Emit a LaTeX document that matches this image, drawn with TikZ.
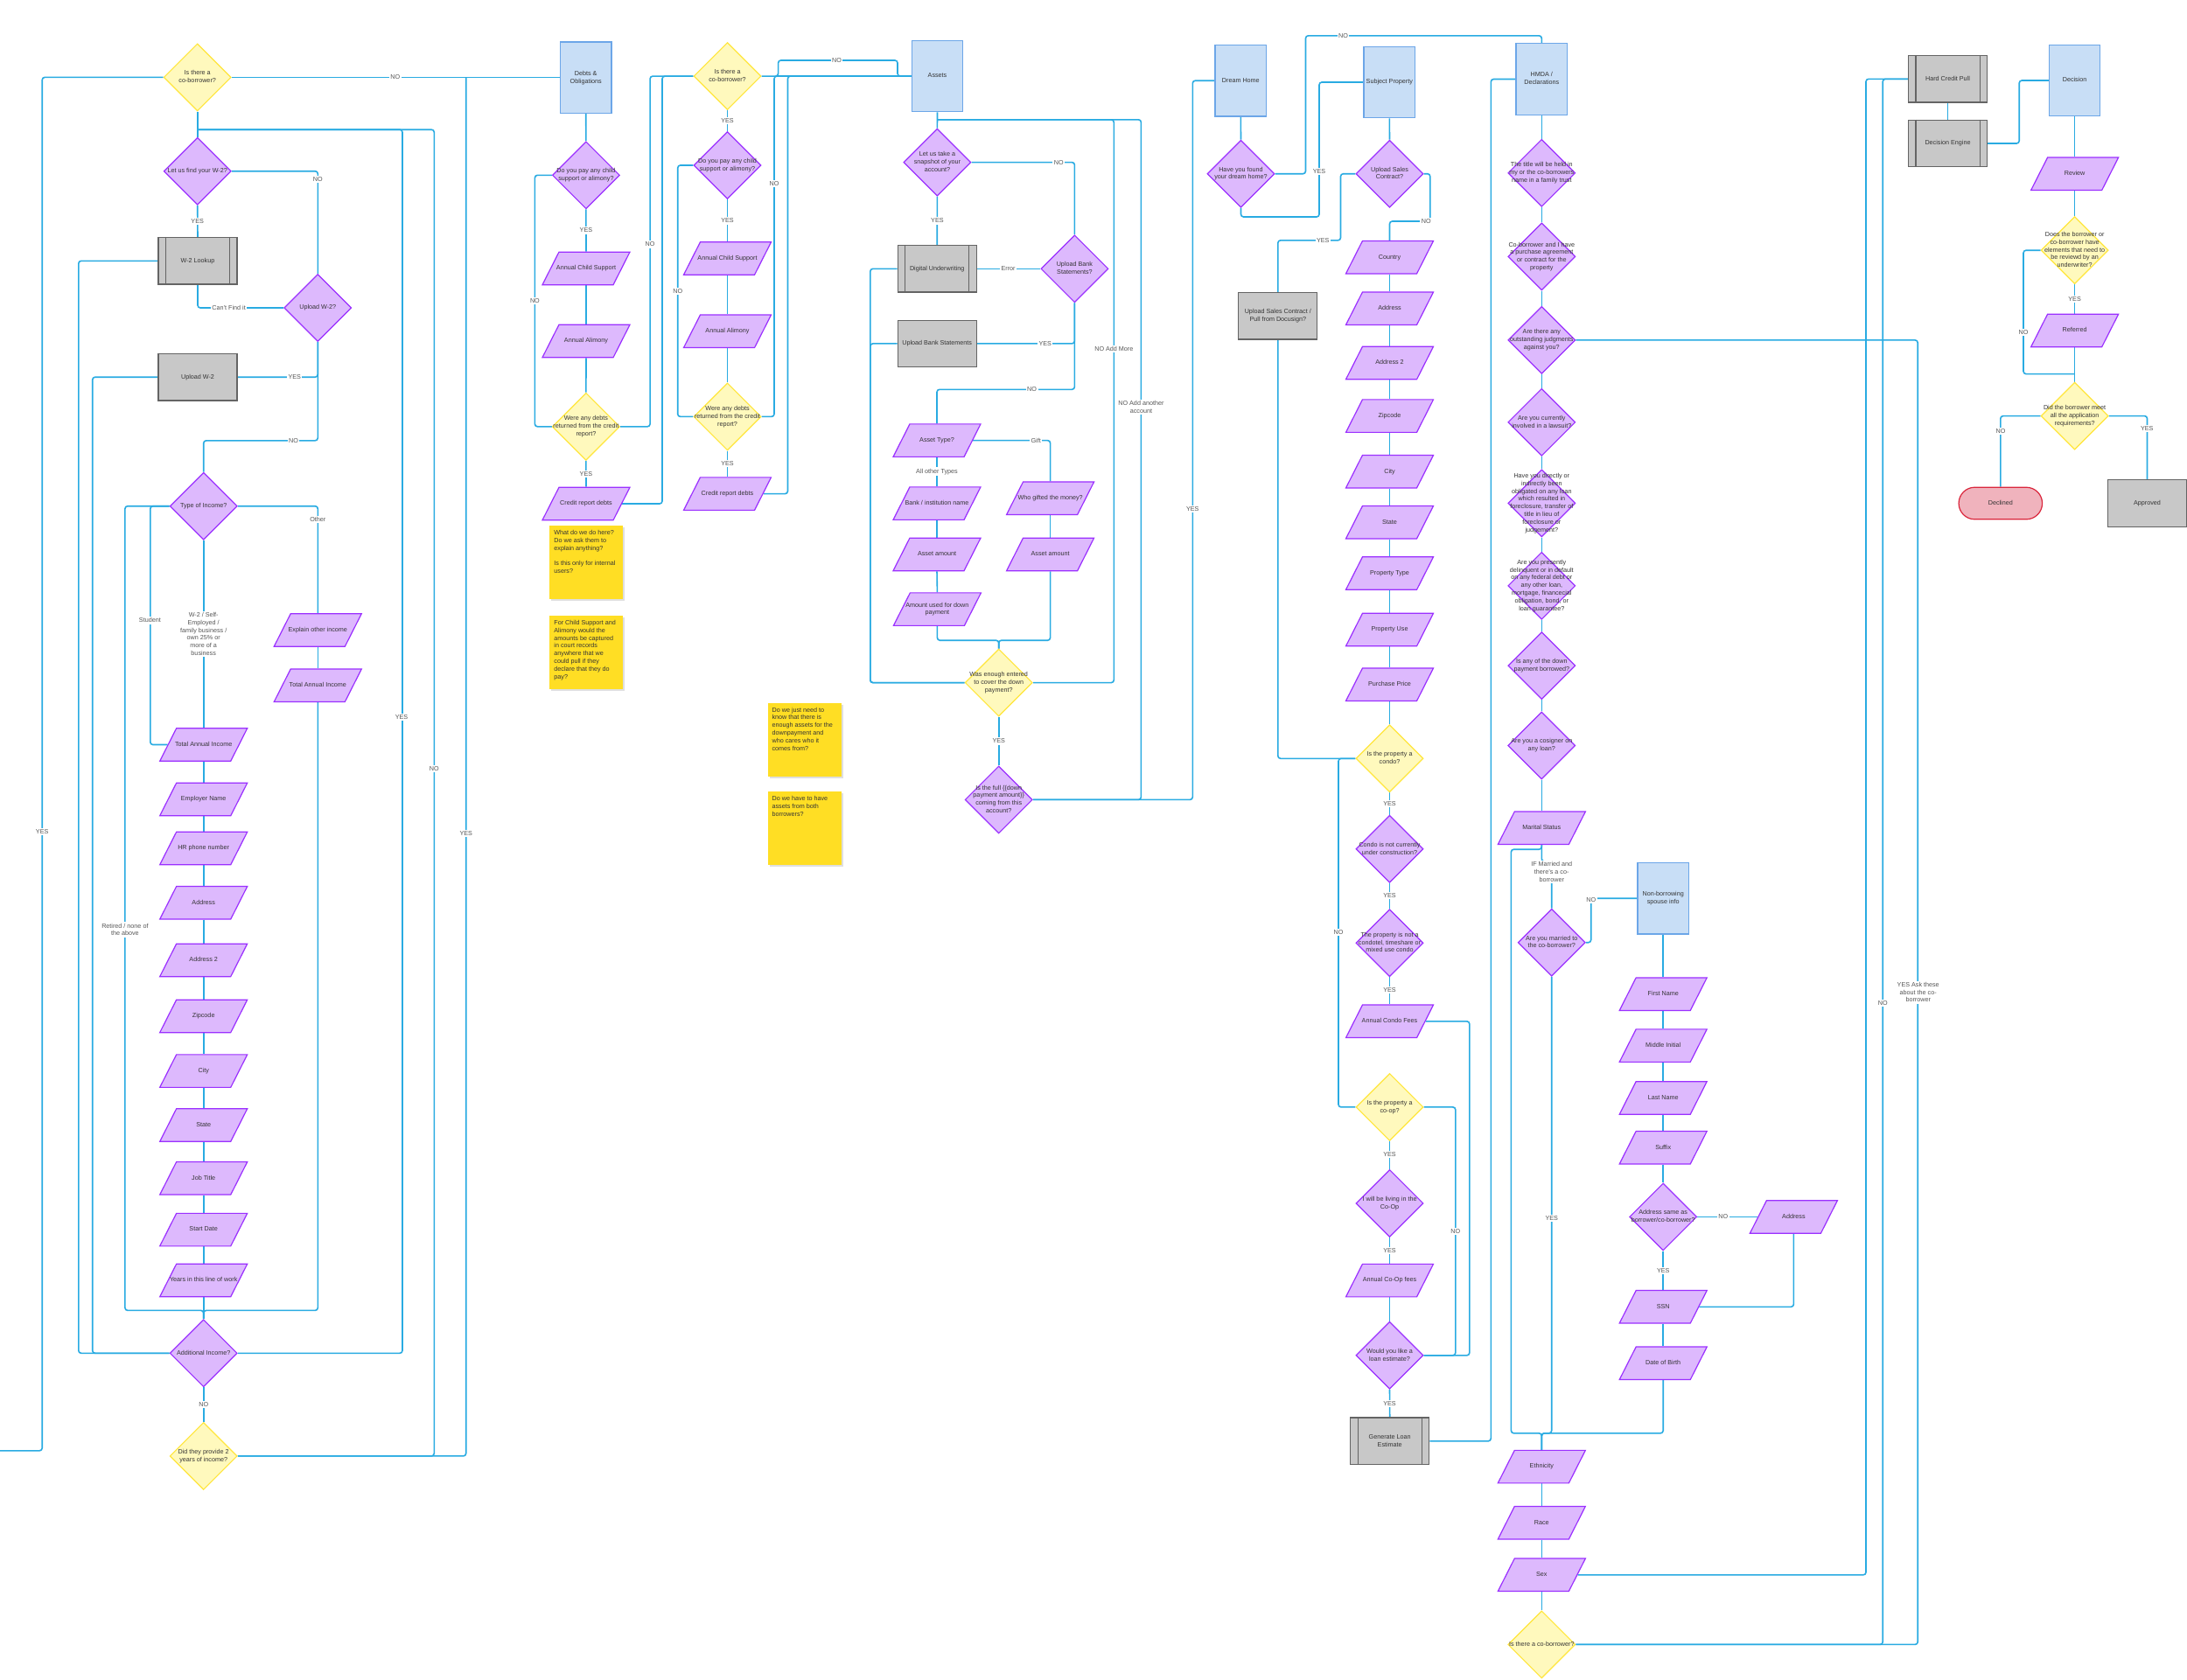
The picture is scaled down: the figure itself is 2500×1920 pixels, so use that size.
\documentclass[tikz,border=0pt]{standalone}
\usepackage{fontspec}
\setmainfont{Liberation Sans}
\usetikzlibrary{shapes.geometric,shapes.misc,shadows,backgrounds}
\definecolor{cblue}{RGB}{41,171,226}
\definecolor{pfill}{RGB}{221,185,253}
\definecolor{pborder}{RGB}{155,48,255}
\definecolor{yfill}{RGB}{255,249,189}
\definecolor{yborder}{RGB}{255,230,60}
\definecolor{bfill}{RGB}{200,222,246}
\definecolor{bborder}{RGB}{108,166,232}
\definecolor{gfill}{RGB}{200,200,200}
\definecolor{gborder}{RGB}{100,100,100}
\definecolor{nfill}{RGB}{255,222,36}
\definecolor{rfill}{RGB}{240,179,189}
\definecolor{rborder}{RGB}{218,38,60}
\definecolor{txtc}{RGB}{51,51,51}
\definecolor{lblc}{RGB}{85,85,85}
\newcommand\nfont{\fontsize{7.2}{8.8}\selectfont}
\newcommand\ntxt[1]{\smash{\raisebox{-1.8pt}{\makebox[0pt]{\begin{tabular}{@{}c@{}}#1\end{tabular}}}}}
\newcommand\subbars[1]{\draw[gborder,line width=1.2pt] ([xshift=9pt]#1.north west) -- ([xshift=9pt]#1.south west) ([xshift=-9pt]#1.north east) -- ([xshift=-9pt]#1.south east);}
\begin{document}
\begin{tikzpicture}[x=1pt,y=-1pt,
 cn/.style={draw=cblue,line width=1.6pt,rounded corners=3pt},
 pdia/.style={shape=diamond,draw=pborder,fill=pfill,line width=1.2pt,minimum width=77pt,minimum height=77pt,inner sep=0pt,font=\nfont,text=txtc},
 ydia/.style={shape=diamond,draw=yborder,fill=yfill,line width=1.2pt,minimum width=77pt,minimum height=77pt,inner sep=0pt,font=\nfont,text=txtc},
 para/.style={trapezium,trapezium left angle=73,trapezium right angle=107,trapezium stretches=true,draw=pborder,fill=pfill,line width=1.2pt,minimum width=100pt,minimum height=37.5pt,inner sep=1pt,font=\nfont,text=txtc},
 bbox/.style={rectangle,draw=bborder,fill=bfill,line width=1.2pt,minimum width=58.5pt,minimum height=81.5pt,inner sep=0pt,font=\nfont,text=txtc},
 gbox/.style={rectangle,draw=gborder,fill=gfill,line width=1.2pt,minimum width=90pt,minimum height=53.5pt,inner sep=0pt,font=\nfont,text=txtc},
 note/.style={rectangle,fill=nfill,anchor=north west,inner sep=5pt,minimum width=84pt,minimum height=84pt,font=\nfont,text=txtc,drop shadow={opacity=0.25,shadow xshift=2pt,shadow yshift=-2pt}},
 lbl/.style={fill=white,inner sep=1.5pt,text=lblc,font=\nfont,align=center}]
\useasboundingbox (0,0) rectangle (2500,1920);

% ---------- income column ----------
\node[ydia] (cob1) at (225.7,88.4) {\ntxt{Is there a\\co-borrower?}};
\node[pdia] (w2f) at (225.7,195.7) {\ntxt{Let us find your W-2?}};
\node[gbox] (w2l) at (226,298.3) {\ntxt{W-2 Lookup}};
\subbars{w2l}
\node[pdia] (uw2q) at (363.3,352) {\ntxt{Upload W-2?}};
\node[gbox] (uw2) at (226,431.2) {\ntxt{Upload W-2}};
\node[pdia] (toi) at (232.7,578.7) {\ntxt{Type of Income?}};
\node[para] (eoi) at (363.3,720.4) {\ntxt{Explain other income}};
\node[para] (tai2) at (363.3,783.7) {\ntxt{Total Annual Income}};
\node[para] (tai) at (232.7,851.5) {\ntxt{Total Annual Income}};
\node[para] (emp) at (232.7,914) {\ntxt{Employer Name}};
\node[para] (hr) at (232.7,970) {\ntxt{HR phone number}};
\node[para] (iaddr) at (232.7,1032.3) {\ntxt{Address}};
\node[para] (iaddrb) at (232.7,1097.9) {\ntxt{Address 2}};
\node[para] (izip) at (232.7,1161.9) {\ntxt{Zipcode}};
\node[para] (icity) at (232.7,1224.6) {\ntxt{City}};
\node[para] (istate) at (232.7,1286.5) {\ntxt{State}};
\node[para] (job) at (232.7,1347.3) {\ntxt{Job Title}};
\node[para] (start) at (232.7,1406.1) {\ntxt{Start Date}};
\node[para] (years) at (232.7,1464) {\ntxt{Years in this line of work}};
\node[pdia] (addinc) at (232.7,1547.3) {\ntxt{Additional Income?}};
\node[ydia] (did2) at (232.7,1664.9) {\ntxt{Did they provide 2\\years of income?}};
\coordinate (offl) at (0,1658.8);
\coordinate (j1) at (225.7,148.2);
\coordinate (j2) at (532.7,88.6);

% ---------- debts ----------
\node[bbox] (dob) at (669.7,88.8) {\ntxt{Debts \&\\Obligations}};
\node[pdia] (cs1) at (669.9,200.3) {\ntxt{Do you pay any child\\support or alimony?}};
\node[para] (acs1) at (670,306.9) {\ntxt{Annual Child Support}};
\node[para] (aal1) at (670,390) {\ntxt{Annual Alimony}};
\node[ydia] (wad1) at (669.9,487.8) {\ntxt{Were any debts\\returned from the credit\\report?}};
\node[para] (crd1) at (670,576) {\ntxt{Credit report debts}};
\node[note] (n1) at (628.2,601) {\parbox[t][74pt][t]{74pt}{\raggedright What do we do here?\\Do we ask them to\\explain anything?\\\mbox{}\\Is this only for internal\\users?}};
\node[note] (n2) at (628.2,704) {\parbox[t][74pt][t]{74pt}{\raggedright For Child Support and\\Alimony would the\\amounts be captured\\in court records\\anywhere that we\\could pull if they\\declare that they do\\pay?}};

\node[ydia] (cob2) at (831.5,87.1) {\ntxt{Is there a\\co-borrower?}};
\node[pdia] (cs2) at (831.5,189) {\ntxt{Do you pay any child\\support or alimony?}};
\node[para] (acs2) at (831.5,295.5) {\ntxt{Annual Child Support}};
\node[para] (aal2) at (831.5,378.8) {\ntxt{Annual Alimony}};
\node[ydia] (wad2) at (831.5,476.4) {\ntxt{Were any debts\\returned from the credit\\report?}};
\node[para] (crd2) at (831.5,564.6) {\ntxt{Credit report debts}};
\node[note] (n3) at (877.4,803.7) {\parbox[t][74pt][t]{74pt}{\raggedright Do we just need to\\know that there is\\enough assets for the\\downpayment and\\who cares who it\\comes from?}};
\node[note] (n4) at (877.4,905.2) {\parbox[t][74pt][t]{74pt}{\raggedright Do we have to have\\assets from both\\borrowers?}};

% ---------- assets ----------
\node[bbox] (ast) at (1071.5,87) {\ntxt{Assets}};
\node[pdia] (snap) at (1071.4,185.6) {\ntxt{Let us take a\\snapshot of your\\account?}};
\node[gbox] (du) at (1071.2,307.3) {\ntxt{Digital Underwriting}};
\subbars{du}
\node[pdia] (ubsq) at (1228.4,307.3) {\ntxt{Upload Bank\\Statements?}};
\node[gbox] (ubs) at (1071.2,392.9) {\ntxt{Upload Bank Statements}};
\node[para] (atype) at (1071,503.6) {\ntxt{Asset Type?}};
\node[para] (bank) at (1071,575.6) {\ntxt{Bank / institution name}};
\node[para] (gift) at (1200.6,569.7) {\ntxt{Who gifted the money?}};
\node[para] (aamt1) at (1071,633.9) {\ntxt{Asset amount}};
\node[para] (aamt2) at (1200.6,633.9) {\ntxt{Asset amount}};
\node[para] (aused) at (1071.4,696.6) {\ntxt{Amount used for down\\payment}};
\node[ydia] (enough) at (1141.7,780.6) {\ntxt{Was enough entered\\to cover the down\\payment?}};
\node[pdia] (full) at (1141.7,914.4) {\ntxt{Is the full \{\{down\\payment amount\}\}\\coming from this\\account?}};
\coordinate (j3) at (1071.5,136.8);

% ---------- property ----------
\node[bbox] (dh) at (1418.3,92.2) {\ntxt{Dream Home}};
\node[pdia] (dhq) at (1418.5,198.7) {\ntxt{Have you found\\your dream home?}};
\node[bbox] (sp) at (1588.3,94) {\ntxt{Subject Property}};
\node[pdia] (usc) at (1588.5,198.7) {\ntxt{Upload Sales\\Contract?}};
\node[gbox] (uscb) at (1460.8,361.3) {\ntxt{Upload Sales Contract /\\Pull from Docusign?}};
\node[para] (country) at (1588.5,294.2) {\ntxt{Country}};
\node[para] (paddr) at (1588.5,352.7) {\ntxt{Address}};
\node[para] (paddrb) at (1588.5,415) {\ntxt{Address 2}};
\node[para] (pzip) at (1588.5,475.6) {\ntxt{Zipcode}};
\node[para] (pcity) at (1588.5,539.2) {\ntxt{City}};
\node[para] (pstate) at (1588.5,597.2) {\ntxt{State}};
\node[para] (ptype) at (1588.5,655.5) {\ntxt{Property Type}};
\node[para] (puse) at (1588.5,720) {\ntxt{Property Use}};
\node[para] (pprice) at (1588.5,782.7) {\ntxt{Purchase Price}};
\node[ydia] (condo) at (1588.5,867.3) {\ntxt{Is the property a\\condo?}};
\node[pdia] (cnc) at (1588.5,970.8) {\ntxt{Condo is not currently\\under construction?}};
\node[pdia] (cotel) at (1588.5,1078.2) {\ntxt{The property is not a\\condotel, timeshare or\\mixed use condo}};
\node[para] (acf) at (1588.5,1167.8) {\ntxt{Annual Condo Fees}};
\node[ydia] (coop) at (1588.5,1265.9) {\ntxt{Is the property a\\co-op?}};
\node[pdia] (living) at (1588.5,1375.9) {\ntxt{I will be living in the\\Co-Op}};
\node[para] (acof) at (1588.5,1464.1) {\ntxt{Annual Co-Op fees}};
\node[pdia] (lest) at (1588.5,1549.8) {\ntxt{Would you like a\\loan estimate?}};
\node[gbox] (gle) at (1588.7,1647.8) {\ntxt{Generate Loan\\Estimate}};
\subbars{gle}

% ---------- HMDA ----------
\node[bbox] (hmda) at (1762.3,90.5) {\ntxt{HMDA /\\Declarations}};
\node[pdia] (q1) at (1762.3,197.8) {\ntxt{The title will be held in\\my or the co-borrowers\\name in a family trust}};
\node[pdia] (q2) at (1762.3,293.4) {\ntxt{Co-borrower and I have\\a purchase agreement\\or contract for the\\property}};
\node[pdia] (q3) at (1762.3,388.9) {\ntxt{Are there any\\outstanding judgments\\against you?}};
\node[pdia] (q4) at (1762.3,482.8) {\ntxt{Are you currently\\involved in a lawsuit?}};
\node[pdia] (q5) at (1762.3,575.4) {\ntxt{Have you directly or\\indirectly been\\obligated on any loan\\which resulted in\\foreclosure, transfer of\\title in lieu of\\foreclosure or\\judgement?}};
\node[pdia] (q6) at (1762.3,669.8) {\ntxt{Are you presently\\delinquent or in default\\on any federal debt or\\any other loan,\\mortgage, financecial\\obligation, bond, or\\loan guarantee?}};
\node[pdia] (q7) at (1762.3,761.1) {\ntxt{Is any of the down\\payment borrowed?}};
\node[pdia] (q8) at (1762.3,852.5) {\ntxt{Are you a cosigner on\\any loan?}};
\node[para] (marital) at (1762.3,946.8) {\ntxt{Marital Status}};
\node[pdia] (married) at (1773.7,1077.7) {\ntxt{Are you married to\\the co-borrower?}};
\node[bbox] (nbs) at (1901.2,1027.2) {\ntxt{Non-borrowing\\spouse info}};
\node[para] (fname) at (1901.2,1136.7) {\ntxt{First Name}};
\node[para] (mi) at (1901.2,1195.6) {\ntxt{Middle Initial}};
\node[para] (lname) at (1901.2,1255.4) {\ntxt{Last Name}};
\node[para] (suffix) at (1901.2,1312.2) {\ntxt{Suffix}};
\node[pdia] (asame) at (1901.2,1391.4) {\ntxt{Address same as\\borrower/co-borrower?}};
\node[para] (naddr) at (2050.4,1391.4) {\ntxt{Address}};
\node[para] (ssn) at (1901.2,1494.3) {\ntxt{SSN}};
\node[para] (dob2) at (1901.2,1558.8) {\ntxt{Date of Birth}};
\node[para] (eth) at (1762.3,1677.1) {\ntxt{Ethnicity}};
\node[para] (race) at (1762.3,1741.2) {\ntxt{Race}};
\node[para] (sex) at (1762.3,1800.8) {\ntxt{Sex}};
\node[ydia] (cob3) at (1762.3,1880.4) {\ntxt{Is there a co-borrower?}};

% ---------- decision ----------
\node[gbox] (hcp) at (2226.5,90.3) {\ntxt{Hard Credit Pull}};
\subbars{hcp}
\node[gbox] (deng) at (2226.5,164) {\ntxt{Decision Engine}};
\subbars{deng}
\node[bbox] (dec) at (2371.6,92) {\ntxt{Decision}};
\node[para] (review) at (2371.6,198.8) {\ntxt{Review}};
\node[ydia] (dbq) at (2371.6,286.2) {\ntxt{Does the borrower or\\co-borrower have\\elements that need to\\be reviewd by an\\underwriter?}};
\node[para] (referred) at (2371.6,378) {\ntxt{Referred}};
\node[ydia] (meet) at (2371.6,475.6) {\ntxt{Did the borrower meet\\all the application\\requirements?}};
\node[rounded rectangle,draw=rborder,fill=rfill,line width=1.2pt,minimum width=97.5pt,minimum height=36.6pt,inner sep=1pt,font=\nfont,text=txtc] (declined) at (2286.8,575.5) {\ntxt{Declined}};
\node[gbox] (approved) at (2454.5,575.5) {\ntxt{Approved}};
\coordinate (j4) at (2371.6,427.6);

\begin{pgfonlayer}{background}
\fill[white] (0,0) rectangle (2500,1920);
% income
\draw[cn] (cob1.west) -| (48.2,900) |- (offl);
\draw[cn] (cob1.east) -- (cob1.east -| dob.west);
\draw[cn] (cob1.south) -- (w2f.north);
\draw[cn] (w2f.south) -- (w2l.north);
\draw[cn] (w2f.east) -| (uw2q.north);
\draw[cn] (w2l.south) |- (uw2q.west);
\draw[cn] (uw2q.south) |- (uw2.east);
\draw[cn] (uw2q.south) -- (363.3,503.8) -| (toi.north);
\draw[cn] (toi.east) -| (eoi.north);
\draw[cn] (eoi.south) -- (tai2.north);
\draw[cn] (tai2.south) |- (232.7,1498.4) -- (addinc.north);
\draw[cn] (toi.west) -| (171.8,700) |- (tai.west);
\draw[cn] (toi.west) -| (142.9,1000) |- (232.7,1498.4) -- (addinc.north);
\draw[cn] (toi.south) -- (tai.north);
\draw[cn] (tai.south) -- (emp.north) (emp.south) -- (hr.north) (hr.south) -- (iaddr.north)
  (iaddr.south) -- (iaddrb.north) (iaddrb.south) -- (izip.north) (izip.south) -- (icity.north)
  (icity.south) -- (istate.north) (istate.south) -- (job.north) (job.south) -- (start.north)
  (start.south) -- (years.north) (years.south) -- (addinc.north);
\draw[cn] (w2l.west) -| (89.8,1000) |- (addinc.west);
\draw[cn] (uw2.west) -| (105.7,1000) |- (addinc.west);
\draw[cn] (addinc.east) -| (460,148.2) -- (j1);
\draw[cn] (addinc.south) -- (did2.north);
\draw[cn] (did2.east) -| (496.3,148.2) -- (j1);
\draw[cn] (did2.east) -| (j2);
% debts
\draw[cn] (dob.south) -- (cs1.north);
\draw[cn] (cs1.south) -- (acs1.north);
\draw[cn] (acs1.south) -- (aal1.north);
\draw[cn] (aal1.south) -- (wad1.north);
\draw[cn] (cs1.west) -| (611.4,300) |- (wad1.west);
\draw[cn] (wad1.south) -- (crd1.north);
\draw[cn] (wad1.east) -| (743.1,300) |- (cob2.west);
\draw[cn] (crd1.east) -| (757,300) |- (cob2.west);
\draw[cn] (cob2.south) -- (cs2.north);
\draw[cn] (cs2.south) -- (acs2.north);
\draw[cn] (acs2.south) -- (aal2.north);
\draw[cn] (aal2.south) -- (wad2.north);
\draw[cn] (cs2.west) -| (774.7,300) |- (wad2.west);
\draw[cn] (wad2.south) -- (crd2.north);
\draw[cn] (wad2.east) -| (885,300) |- (ast.west);
\draw[cn] (crd2.east) -| (900.5,300) |- (ast.west);
\draw[cn] (cob2.east) -| (889.6,69) -| (1026,80) |- (ast.west);
% assets
\draw[cn] (ast.south) -- (snap.north);
\draw[cn] (snap.south) -- (du.north);
\draw[cn] (snap.east) -| (ubsq.north);
\draw[cn] (du.east) -- (ubsq.west);
\draw[cn] (ubsq.south) |- (ubs.east);
\draw[cn] (ubsq.south) -- (1228.4,445.3) -| (atype.north);
\draw[cn] (atype.south) -- (bank.north);
\draw[cn] (atype.east) -| (gift.north);
\draw[cn] (bank.south) -- (aamt1.north);
\draw[cn] (aamt1.south) -- (aused.north);
\draw[cn] (gift.south) -- (aamt2.north);
\draw[cn] (aused.south) |- (1141.7,732.2) -- (enough.north);
\draw[cn] (aamt2.south) |- (1141.7,732.2) -- (enough.north);
\draw[cn] (du.west) -| (994.8,500) |- (enough.west);
\draw[cn] (ubs.west) -| (994.8,500) |- (enough.west);
\draw[cn] (enough.south) -- (full.north);
\draw[cn] (enough.east) -| (1273.3,136.8) -- (j3);
\draw[cn] (full.east) -| (1304.4,136.8) -- (j3);
\draw[cn] (full.east) -| (1363.3,300) |- (dh.west);
% property
\draw[cn] (dh.south) -- (dhq.north);
\draw[cn] (dhq.east) -| (1492.5,40.8) -| (hmda.north);
\draw[cn] (dhq.south) |- (1508,248) |- (sp.west);
\draw[cn] (sp.south) -- (usc.north);
\draw[cn] (usc.west) -| (1532.5,274.8) -| (uscb.north);
\draw[cn] (usc.east) -| (1634.8,253) -| (country.north);
\draw[cn] (country.south) -- (paddr.north) (paddr.south) -- (paddrb.north) (paddrb.south) -- (pzip.north)
  (pzip.south) -- (pcity.north) (pcity.south) -- (pstate.north) (pstate.south) -- (ptype.north)
  (ptype.south) -- (puse.north) (puse.south) -- (pprice.north) (pprice.south) -- (condo.north);
\draw[cn] (uscb.south) |- (condo.west);
\draw[cn] (condo.west) -| (1530,1000) |- (coop.west);
\draw[cn] (condo.south) -- (cnc.north);
\draw[cn] (cnc.south) -- (cotel.north);
\draw[cn] (cotel.south) -- (acf.north);
\draw[cn] (acf.east) -| (1679.8,1400) |- (lest.east);
\draw[cn] (coop.east) -| (1663.8,1400) |- (lest.east);
\draw[cn] (coop.south) -- (living.north);
\draw[cn] (living.south) -- (acof.north);
\draw[cn] (acof.south) -- (lest.north);
\draw[cn] (lest.south) -- (gle.north);
\draw[cn] (gle.east) -| (1704.3,500) |- (hmda.west);
% HMDA
\draw[cn] (hmda.south) -- (q1.north) (q1.south) -- (q2.north) (q2.south) -- (q3.north)
  (q3.south) -- (q4.north) (q4.south) -- (q5.north) (q5.south) -- (q6.north)
  (q6.south) -- (q7.north) (q7.south) -- (q8.north) (q8.south) -- (marital.north);
\draw[cn] (marital.south) -- (1762.3,971.2) -| (1727.4,1300) |- (1762.3,1638.8) -- (eth.north);
\draw[cn] (marital.south) -- (1762.3,985) -| (married.north);
\draw[cn] (married.east) -| (1818.7,1050) |- (nbs.west);
\draw[cn] (married.south) |- (1762.3,1638.8) -- (eth.north);
\draw[cn] (nbs.south) -- (fname.north) (fname.south) -- (mi.north) (mi.south) -- (lname.north)
  (lname.south) -- (suffix.north) (suffix.south) -- (asame.north);
\draw[cn] (asame.east) -- (naddr.west);
\draw[cn] (asame.south) -- (ssn.north);
\draw[cn] (naddr.south) |- (ssn.east);
\draw[cn] (ssn.south) -- (dob2.north);
\draw[cn] (dob2.south) |- (1762.3,1638.8) -- (eth.north);
\draw[cn] (eth.south) -- (race.north) (race.south) -- (sex.north) (sex.south) -- (cob3.north);
\draw[cn] (sex.east) -| (2133,500) |- (hcp.west);
\draw[cn] (cob3.east) -| (2152.2,500) |- (hcp.west);
\draw[cn] (cob3.east) -| (2192.2,1000) |- (q3.east);
% decision
\draw[cn] (hcp.south) -- (deng.north);
\draw[cn] (deng.east) -| (2308.2,120) |- (dec.west);
\draw[cn] (dec.south) -- (review.north);
\draw[cn] (review.south) -- (dbq.north);
\draw[cn] (dbq.south) -- (referred.north);
\draw[cn] (referred.south) -- (meet.north);
\draw[cn] (dbq.west) -| (2313,400) |- (j4);
\draw[cn] (meet.west) -| (declined.north);
\draw[cn] (meet.east) -| (approved.north);
\end{pgfonlayer}

% ---------- labels ----------
\node[lbl] (l1) at (451.8,88.4) {NO};
\node[lbl] (l2) at (48.2,951) {YES};
\node[lbl] (l3) at (225.7,253) {YES};
\node[lbl] (l4) at (363.3,205) {NO};
\node[lbl] (l5) at (261.6,352) {Can't Find it};
\node[lbl] (l6) at (336.7,431.2) {YES};
\node[lbl] (l7) at (335.5,503.8) {NO};
\node[lbl] (l8) at (363.3,594) {Other};
\node[lbl] (l9) at (171.4,709.4) {Student};
\node[lbl] (l10) at (232.7,725) {W-2 / Self-\\Employed /\\family business /\\own 25\% or\\more of a\\business};
\node[lbl] (l11) at (142.9,1063) {Retired / none of\\the above};
\node[lbl] (l12) at (459,819.7) {YES};
\node[lbl] (l13) at (496.3,879) {NO};
\node[lbl] (l14) at (532.7,953) {YES};
\node[lbl] (l15) at (232.7,1606) {NO};
\node[lbl] (l16) at (669.9,263.5) {YES};
\node[lbl] (l17) at (611.4,344.3) {NO};
\node[lbl] (l18) at (669.9,541.7) {YES};
\node[lbl] (l19) at (743.1,279.5) {NO};
\node[lbl] (l20) at (831.5,138) {YES};
\node[lbl] (l21) at (831.5,252.5) {YES};
\node[lbl] (l22) at (774.7,333) {NO};
\node[lbl] (l23) at (831.5,530) {YES};
\node[lbl] (l24) at (885,210) {NO};
\node[lbl] (l25) at (956.5,69) {NO};
\node[lbl] (l26) at (1071.4,252.5) {YES};
\node[lbl] (l27) at (1210.3,185.6) {NO};
\node[lbl] (l28) at (1152.6,307.3) {Error};
\node[lbl] (l29) at (1194.7,392.9) {YES};
\node[lbl] (l30) at (1179.6,445.3) {NO};
\node[lbl] (l31) at (1071,539.2) {All other Types};
\node[lbl] (l32) at (1184.2,503.6) {Gift};
\node[lbl] (l33) at (1141.7,847.5) {YES};
\node[lbl] (l34) at (1273.3,399) {NO Add More};
\node[lbl] (l35) at (1304.4,465.5) {NO Add another\\account};
\node[lbl] (l36) at (1363.3,582) {YES};
\node[lbl] (l37) at (1535.5,40.8) {NO};
\node[lbl] (l38) at (1508,195.7) {YES};
\node[lbl] (l39) at (1512.3,274.8) {YES};
\node[lbl] (l40) at (1630.2,253) {NO};
\node[lbl] (l41) at (1530,1066) {NO};
\node[lbl] (l42) at (1588.5,918.6) {YES};
\node[lbl] (l43) at (1588.5,1024.3) {YES};
\node[lbl] (l44) at (1588.5,1132.4) {YES};
\node[lbl] (l45) at (1663.8,1407.8) {NO};
\node[lbl] (l46) at (1588.5,1320) {YES};
\node[lbl] (l47) at (1588.5,1429.8) {YES};
\node[lbl] (l48) at (1588.5,1604.9) {YES};
\node[lbl] (l49) at (1773.7,997) {IF Married and\\there's a co-\\borrower};
\node[lbl] (l50) at (1818.7,1029) {NO};
\node[lbl] (l51) at (1773.7,1393) {YES};
\node[lbl] (l52) at (1969.8,1391.4) {NO};
\node[lbl] (l53) at (1901.2,1453) {YES};
\node[lbl] (l54) at (2152.2,1146.8) {NO};
\node[lbl] (l55) at (2192.7,1134.6) {YES Ask these\\about the co-\\borrower};
\node[lbl] (l56) at (2371.6,341.8) {YES};
\node[lbl] (l57) at (2313,380) {NO};
\node[lbl] (l58) at (2287,492.9) {NO};
\node[lbl] (l59) at (2454.3,489.9) {YES};
\end{tikzpicture}
\end{document}
